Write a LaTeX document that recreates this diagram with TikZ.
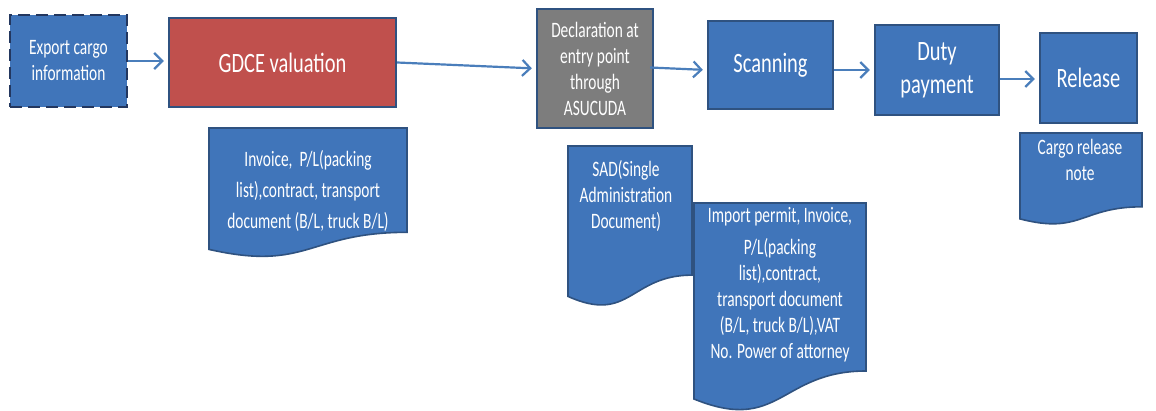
\documentclass[tikz,border=0pt]{standalone}
\usepackage{fontspec}
\usetikzlibrary{arrows.meta,calc}
\newfontfamily\flowfont[FakeStretch=0.70]{Carlito}
\newfontfamily\flowbig[FakeStretch=0.73]{Carlito}

\definecolor{boxblue}{RGB}{64,117,186}
\definecolor{edgeblue}{RGB}{47,82,128}
\definecolor{dashnavy}{RGB}{35,55,95}
\definecolor{gdcered}{RGB}{192,80,77}
\definecolor{declgrey}{RGB}{125,125,125}
\definecolor{arrowblue}{RGB}{74,126,187}

\tikzset{
  proc/.style={draw=edgeblue, line width=2.4pt, fill=boxblue, text=white,
    align=center, inner sep=0pt,
    font=\flowfont\fontsize{22}{26}\selectfont},
  bigtext/.style={font=\flowbig\fontsize{28}{33}\selectfont},
  flow/.style={draw=arrowblue, line width=2.2pt,
    -{Straight Barb[length=8pt,width=16pt]}, shorten >=4pt},
  docshape/.style={draw=edgeblue, line width=1.6pt, fill=boxblue},
  doctext/.style={text=white, align=center, inner sep=0pt,
    font=\flowfont\fontsize{22}{26}\selectfont}
}

\begin{document}
\begin{tikzpicture}[x=1pt,y=-1pt]
\useasboundingbox (0,0) rectangle (1156,410);

% process boxes
\node[proc, draw=dashnavy, line width=2.8pt, dash pattern=on 12pt off 6pt,
      minimum width=117pt, minimum height=92pt] (exp) at (68.5,61)
      {Export cargo\\information};
\node[proc, bigtext, fill=gdcered, minimum width=227pt, minimum height=89pt]
      (gdce) at (282.5,62.5) {GDCE valuation};
\node[proc, fill=declgrey, minimum width=116pt, minimum height=119pt]
      (decl) at (595,68.5) {Declaration at\\entry point\\through\\ASUCUDA};
\node[proc, bigtext, minimum width=125pt, minimum height=88pt]
      (scan) at (770.5,65) {Scanning};
\node[proc, bigtext, minimum width=124pt, minimum height=90pt]
      (duty) at (937,70) {Duty\\payment};
\node[proc, bigtext, minimum width=97pt, minimum height=90pt]
      (rel) at (1088.5,78) {Release};

% document shapes (wavy bottom edge)
\draw[docshape] (209,128) -- (407,128) -- (407,232.3)
  .. controls (308,232.3) and (308,271.9) .. (209,249.4) -- cycle;
\draw[docshape] (568,146) -- (692,146) -- (692,275.1)
  .. controls (630,275.1) and (630,324.2) .. (568,296.4) -- cycle;
\draw[docshape] (694,203) -- (866,203) -- (866,371)
  .. controls (780,371) and (780,434) .. (694,399) -- cycle;
\draw[docshape] (1020,133) -- (1142,133) -- (1142,206.8)
  .. controls (1081,206.8) and (1081,234.8) .. (1020,218.9) -- cycle;

% document texts
\node[doctext, font=\flowfont\fontsize{22}{31}\selectfont] (doca) at (308,191)
  {Invoice,\ \ P/L(packing\\list),contract, transport\\document (B/L, truck B/L)};
\node[doctext] (docb) at (626,196)
  {SAD(Single\\Administration\\Document)};
\node[doctext] (docc) at (780,285)
  {Import permit, Invoice,\\[6pt]P/L(packing\\list),contract,\\transport document\\(B/L, truck B/L),VAT\\No. Power of attorney};
\node[doctext] (docd) at (1080,160)
  {Cargo release\\note};

% connectors
\draw[flow] (exp.east) -- (exp.east -| gdce.west);
\draw[flow] (gdce.east) -- (decl.west);
\draw[flow] ($(decl.east)+(-4,-1)$) -- ($(scan.west)+(0,5)$);
\draw[flow] ($(scan.east)+(0,5)$) coordinate (s1) -- (s1 -| duty.west);
\draw[flow] ($(duty.east)+(0,9)$) coordinate (d1) -- (d1 -| rel.west);
\end{tikzpicture}
\end{document}
